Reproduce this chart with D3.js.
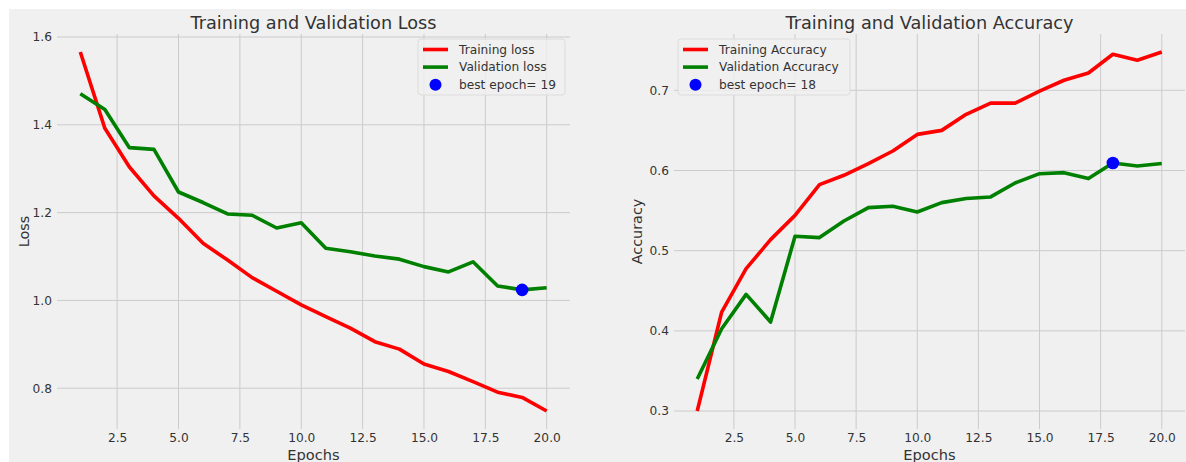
<!DOCTYPE html>
<html>
<head>
<meta charset="utf-8">
<script src="https://cdn.jsdelivr.net/npm/d3@7"></script>
<style>
  html, body { margin: 0; padding: 0; background: #ffffff; }
  svg { display: block; }
  text { font-family: "DejaVu Sans", sans-serif; fill: #333333; }
</style>
</head>
<body>
<svg id="chart" width="1186" height="462"></svg>
<script>
// Training history, one value per epoch
const epochs = d3.range(1, 21);
const trainLoss = [1.566, 1.392, 1.304, 1.238, 1.187, 1.130, 1.092, 1.052, 1.021, 0.990,
                   0.963, 0.937, 0.906, 0.889, 0.855, 0.838, 0.815, 0.791, 0.779, 0.748];
const valLoss   = [1.471, 1.435, 1.348, 1.344, 1.247, 1.223, 1.197, 1.194, 1.165, 1.177,
                   1.119, 1.111, 1.101, 1.094, 1.077, 1.065, 1.088, 1.033, 1.024, 1.029];
const trainAcc  = [0.300, 0.4235, 0.4775, 0.5138, 0.544, 0.5824, 0.594, 0.6086, 0.6243, 0.645,
                   0.650, 0.670, 0.684, 0.684, 0.699, 0.7125, 0.7216, 0.745, 0.7375, 0.7478];
const valAcc    = [0.340, 0.4027, 0.4455, 0.411, 0.5179, 0.5163, 0.537, 0.5537, 0.5553, 0.5482,
                   0.5599, 0.565, 0.567, 0.5844, 0.596, 0.5973, 0.5899, 0.6093, 0.6056, 0.6086];

const xTicks = [2.5, 5.0, 7.5, 10.0, 12.5, 15.0, 17.5, 20.0];
const lossTicks = [0.8, 1.0, 1.2, 1.4, 1.6];
const accTicks = [0.3, 0.4, 0.5, 0.6, 0.7];

// Best epochs: lowest validation loss, highest validation accuracy
const bestLossIdx = d3.minIndex(valLoss);
const bestAccIdx = d3.maxIndex(valAcc);

const svg = d3.select("#chart");
const BG = "#f0f0f0";
const GRID = "#cbcbcb";

// figure background
svg.append("rect").attr("x", 9).attr("y", 9).attr("width", 1186 - 9).attr("height", 462 - 9).attr("fill", BG);

// pad the extent by 5% on each side
function padded(arrs) {
  const all = arrs.flat();
  const [lo, hi] = d3.extent(all);
  const m = (hi - lo) * 0.05;
  return [lo - m, hi + m];
}

function panel(cfg) {
  const { left, right, top, bottom } = cfg.box;
  const g = svg.append("g");

  const x = d3.scaleLinear().domain([0.05, 20.95]).range([left, right]);
  const y = d3.scaleLinear().domain(padded([cfg.train, cfg.val])).range([bottom, top]);

  // grid
  const grid = g.append("g");
  grid.selectAll("line.v").data(xTicks).join("line")
    .attr("x1", d => x(d)).attr("x2", d => x(d))
    .attr("y1", top).attr("y2", bottom)
    .attr("stroke", GRID).attr("stroke-width", 1);
  grid.selectAll("line.h").data(cfg.yTicks).join("line")
    .attr("x1", left).attr("x2", right)
    .attr("y1", d => y(d)).attr("y2", d => y(d))
    .attr("stroke", GRID).attr("stroke-width", 1);

  // axes (tick labels only, no domain line or tick marks)
  const xAxis = d3.axisBottom(x).tickValues(xTicks).tickFormat(d3.format(".1f")).tickSize(0).tickPadding(4.5);
  const gx = g.append("g").attr("transform", `translate(0,${bottom})`).call(xAxis);
  const yAxis = d3.axisLeft(y).tickValues(cfg.yTicks).tickFormat(d3.format(".1f")).tickSize(0).tickPadding(5);
  const gy = g.append("g").attr("transform", `translate(${left},0)`).call(yAxis);
  [gx, gy].forEach(a => {
    a.select(".domain").remove();
    a.selectAll("text").attr("font-size", 12.2).attr("fill", "#333333")
      .attr("font-family", "DejaVu Sans, sans-serif");
  });

  // series
  const line = d3.line().x((d, i) => x(epochs[i])).y(d => y(d)).curve(d3.curveLinear);
  g.append("path").datum(cfg.train).attr("d", line)
    .attr("fill", "none").attr("stroke", "#ff0000").attr("stroke-width", 3.6)
    .attr("stroke-linejoin", "round").attr("stroke-linecap", "butt");
  g.append("path").datum(cfg.val).attr("d", line)
    .attr("fill", "none").attr("stroke", "#008000").attr("stroke-width", 3.6)
    .attr("stroke-linejoin", "round").attr("stroke-linecap", "butt");

  // best epoch marker
  g.append("circle")
    .attr("cx", x(epochs[cfg.best])).attr("cy", y(cfg.val[cfg.best]))
    .attr("r", 6.3).attr("fill", "#0000ff");

  // title and axis labels
  g.append("text").attr("x", (left + right) / 2).attr("y", 29)
    .attr("text-anchor", "middle").attr("font-size", 17.7).text(cfg.title);
  g.append("text").attr("x", (left + right) / 2).attr("y", 459.5)
    .attr("text-anchor", "middle").attr("font-size", 14.6).text("Epochs");
  g.append("text")
    .attr("transform", `translate(${cfg.yLabelX},${(top + bottom) / 2}) rotate(-90)`)
    .attr("text-anchor", "middle").attr("font-size", 14.4).text(cfg.yLabel);

  // legend
  const L = cfg.legend;
  const lg = g.append("g");
  lg.append("rect").attr("x", L.x).attr("y", L.y).attr("width", L.w).attr("height", L.h)
    .attr("rx", 3).attr("fill", BG).attr("fill-opacity", 0.8)
    .attr("stroke", "#dcdcdc").attr("stroke-width", 1);
  const items = [
    { label: cfg.labels[0], kind: "line", color: "#ff0000" },
    { label: cfg.labels[1], kind: "line", color: "#008000" },
    { label: `best epoch= ${cfg.best + 1}`, kind: "dot", color: "#0000ff" }
  ];
  items.forEach((it, i) => {
    const cy = L.y + 10.5 + i * 17.6;
    const hx = L.x + 5;
    if (it.kind === "line") {
      lg.append("line").attr("x1", hx).attr("x2", hx + 25).attr("y1", cy).attr("y2", cy)
        .attr("stroke", it.color).attr("stroke-width", 3.6);
    } else {
      lg.append("circle").attr("cx", hx + 12.5).attr("cy", cy).attr("r", 6).attr("fill", it.color);
    }
    lg.append("text").attr("x", hx + 36).attr("y", cy + 4.3).attr("font-size", 12.2).text(it.label);
  });
}

panel({
  box: { left: 57, right: 570, top: 34, bottom: 429 },
  train: trainLoss, val: valLoss, yTicks: lossTicks, best: bestLossIdx,
  title: "Training and Validation Loss", yLabel: "Loss", yLabelX: 28.5,
  labels: ["Training loss", "Validation loss"],
  legend: { x: 418, y: 39, w: 147, h: 56 }
});

panel({
  box: { left: 674, right: 1185, top: 34, bottom: 429 },
  train: trainAcc, val: valAcc, yTicks: accTicks, best: bestAccIdx,
  title: "Training and Validation Accuracy", yLabel: "Accuracy", yLabelX: 642,
  labels: ["Training Accuracy", "Validation Accuracy"],
  legend: { x: 678, y: 39, w: 172, h: 56 }
});
</script>
</body>
</html>
